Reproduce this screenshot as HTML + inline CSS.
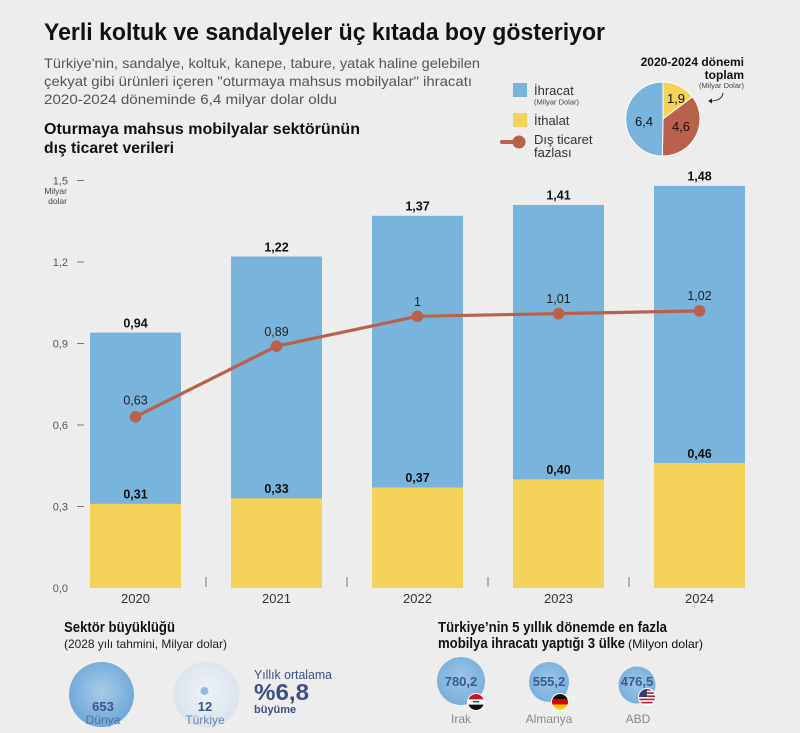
<!DOCTYPE html>
<html><head><meta charset="utf-8"><style>
html,body{margin:0;padding:0;background:#ededed;}
svg{display:block;}
text{font-family:"Liberation Sans",sans-serif;}
</style></head><body>
<svg width="800" height="733" viewBox="0 0 800 733" xmlns="http://www.w3.org/2000/svg">
<defs>
<radialGradient id="gw" cx="50%" cy="45%" r="55%">
<stop offset="0" stop-color="#a8cbe8"/><stop offset="1" stop-color="#6ea7d8"/>
</radialGradient>
<radialGradient id="gt" cx="50%" cy="45%" r="55%">
<stop offset="0" stop-color="#eef2f6"/><stop offset="1" stop-color="#d9e3ee"/>
</radialGradient>
<radialGradient id="gc" cx="50%" cy="45%" r="55%">
<stop offset="0" stop-color="#9cc6e8"/><stop offset="1" stop-color="#78b0dc"/>
</radialGradient>
</defs>
<rect width="800" height="733" fill="#ededed"/>

<!-- Title -->
<text x="44" y="40" font-size="24" font-weight="bold" fill="#111" textLength="561" lengthAdjust="spacingAndGlyphs">Yerli koltuk ve sandalyeler üç kıtada boy gösteriyor</text>
<text x="44" y="68" font-size="14" fill="#555" textLength="436" lengthAdjust="spacingAndGlyphs">Türkiye'nin, sandalye, koltuk, kanepe, tabure, yatak haline gelebilen</text>
<text x="44" y="86" font-size="14" fill="#555" textLength="428" lengthAdjust="spacingAndGlyphs">çekyat gibi ürünleri içeren "oturmaya mahsus mobilyalar" ihracatı</text>
<text x="44" y="104" font-size="14" fill="#555" textLength="293" lengthAdjust="spacingAndGlyphs">2020-2024 döneminde 6,4 milyar dolar oldu</text>
<text x="44" y="134" font-size="16" font-weight="bold" fill="#111" textLength="316" lengthAdjust="spacingAndGlyphs">Oturmaya mahsus mobilyalar sektörünün</text>
<text x="44" y="153" font-size="16" font-weight="bold" fill="#111" textLength="130" lengthAdjust="spacingAndGlyphs">dış ticaret verileri</text>

<!-- Legend -->
<rect x="513" y="83" width="14" height="14" fill="#79b4dc"/>
<text x="534" y="95" font-size="13" fill="#333">İhracat</text>
<text x="534" y="104.5" font-size="7.5" fill="#444">(Milyar Dolar)</text>
<rect x="513" y="113" width="14" height="14" fill="#f5d35a"/>
<text x="534" y="125" font-size="13" fill="#333">İthalat</text>
<line x1="502" y1="142" x2="516" y2="142" stroke="#b9614a" stroke-width="4" stroke-linecap="round"/>
<circle cx="519" cy="142" r="6.5" fill="#b9614a"/>
<text x="534" y="144" font-size="13" fill="#333">Dış ticaret</text>
<text x="534" y="157" font-size="13" fill="#333">fazlası</text>

<!-- Pie -->
<text x="744" y="66" font-size="12" font-weight="bold" fill="#111" text-anchor="end">2020-2024 dönemi</text>
<text x="744" y="79" font-size="12" font-weight="bold" fill="#111" text-anchor="end">toplam</text>
<text x="744" y="88" font-size="7.5" fill="#444" text-anchor="end">(Milyar Dolar)</text>
<path d="M723 93 Q722 101 710 101" fill="none" stroke="#222" stroke-width="1"/>
<path d="M708 101 L712 98.5 L712 103.5 Z" fill="#222"/>
<path d="M663 119 L663 82 A37 37 0 0 1 692.55 96.73 Z" fill="#f5d35a" stroke="#fff" stroke-width="1"/>
<path d="M663 119 L692.55 96.73 A37 37 0 0 1 662.35 156 Z" fill="#b9614a" stroke="#fff" stroke-width="1"/>
<path d="M663 119 L662.35 156 A37 37 0 0 1 663 82 Z" fill="#79b4dc" stroke="#fff" stroke-width="1"/>
<text x="676" y="103" font-size="13" fill="#111" text-anchor="middle">1,9</text>
<text x="681" y="131" font-size="13" fill="#111" text-anchor="middle">4,6</text>
<text x="644" y="126" font-size="13" fill="#111" text-anchor="middle">6,4</text>

<!-- Y axis -->
<g font-size="11" fill="#555" text-anchor="end">
<text x="68" y="184.5">1,5</text>
<text x="68" y="266">1,2</text>
<text x="68" y="347.5">0,9</text>
<text x="68" y="429">0,6</text>
<text x="68" y="510.5">0,3</text>
<text x="68" y="592">0,0</text>
</g>
<text x="67" y="194" font-size="8.5" fill="#444" text-anchor="end">Milyar</text>
<text x="67" y="204" font-size="8.5" fill="#444" text-anchor="end">dolar</text>
<g stroke="#777" stroke-width="1">
<line x1="77" y1="180.5" x2="84" y2="180.5"/>
<line x1="77" y1="262" x2="84" y2="262"/>
<line x1="77" y1="343.5" x2="84" y2="343.5"/>
<line x1="77" y1="425" x2="84" y2="425"/>
<line x1="77" y1="506.5" x2="84" y2="506.5"/>
<line x1="206" y1="577" x2="206" y2="587"/>
<line x1="347" y1="577" x2="347" y2="587"/>
<line x1="488" y1="577" x2="488" y2="587"/>
<line x1="629" y1="577" x2="629" y2="587"/>
</g>

<!-- Bars -->
<g fill="#79b4dc">
<rect x="90" y="332.6" width="91" height="255.4"/>
<rect x="231" y="256.5" width="91" height="331.5"/>
<rect x="372" y="215.8" width="91" height="372.2"/>
<rect x="513" y="204.9" width="91" height="383.1"/>
<rect x="654" y="185.9" width="91" height="402.1"/>
</g>
<g fill="#f5d35a">
<rect x="90" y="503.8" width="91" height="84.2"/>
<rect x="231" y="498.3" width="91" height="89.7"/>
<rect x="372" y="487.5" width="91" height="100.5"/>
<rect x="513" y="479.3" width="91" height="108.7"/>
<rect x="654" y="463" width="91" height="125"/>
</g>

<!-- Bar labels -->
<g font-size="12.5" font-weight="bold" fill="#111" text-anchor="middle">
<text x="135.5" y="327.5">0,94</text>
<text x="276.5" y="251.5">1,22</text>
<text x="417.5" y="210.5">1,37</text>
<text x="558.5" y="199.5">1,41</text>
<text x="699.5" y="180.5">1,48</text>
<text x="135.5" y="498.5">0,31</text>
<text x="276.5" y="493">0,33</text>
<text x="417.5" y="482">0,37</text>
<text x="558.5" y="474">0,40</text>
<text x="699.5" y="458">0,46</text>
</g>

<!-- Line -->
<polyline points="135.5,416.8 276.5,346.2 417.5,316.3 558.5,313.6 699.5,310.9" fill="none" stroke="#b9614a" stroke-width="3.2" stroke-linejoin="round"/>
<g fill="#b9614a">
<circle cx="135.5" cy="416.8" r="5.8"/>
<circle cx="276.5" cy="346.2" r="5.8"/>
<circle cx="417.5" cy="316.3" r="5.8"/>
<circle cx="558.5" cy="313.6" r="5.8"/>
<circle cx="699.5" cy="310.9" r="5.8"/>
</g>
<g font-size="12.5" fill="#222" text-anchor="middle">
<text x="135.5" y="404.5">0,63</text>
<text x="276.5" y="336">0,89</text>
<text x="417.5" y="306">1</text>
<text x="558.5" y="303">1,01</text>
<text x="699.5" y="300">1,02</text>
</g>

<!-- Years -->
<g font-size="13" fill="#333" text-anchor="middle">
<text x="135.5" y="603">2020</text>
<text x="276.5" y="603">2021</text>
<text x="417.5" y="603">2022</text>
<text x="558.5" y="603">2023</text>
<text x="699.5" y="603">2024</text>
</g>

<!-- Bottom left -->
<text x="64" y="632" font-size="14.5" font-weight="bold" fill="#111" textLength="111" lengthAdjust="spacingAndGlyphs">Sektör büyüklüğü</text>
<text x="64" y="648" font-size="12" fill="#222" textLength="163" lengthAdjust="spacingAndGlyphs">(2028 yılı tahmini, Milyar dolar)</text>
<circle cx="101.5" cy="694.5" r="32.5" fill="url(#gw)"/>
<circle cx="206.5" cy="694.5" r="33" fill="url(#gt)"/>
<circle cx="204.5" cy="691" r="4" fill="#8dbde2"/>
<text x="103" y="711" font-size="13" font-weight="bold" fill="#3b5489" text-anchor="middle">653</text>
<text x="103" y="724" font-size="12" fill="#4f72a6" text-anchor="middle">Dünya</text>
<text x="205" y="711" font-size="13" font-weight="bold" fill="#3b5489" text-anchor="middle">12</text>
<text x="205" y="724" font-size="12" fill="#6a86b0" text-anchor="middle">Türkiye</text>
<text x="254" y="679" font-size="12.5" fill="#3d4f86" textLength="78" lengthAdjust="spacingAndGlyphs">Yıllık ortalama</text>
<text x="254" y="700" font-size="23" font-weight="bold" fill="#3d4f86" textLength="55" lengthAdjust="spacingAndGlyphs">%6,8</text>
<text x="254" y="713" font-size="11" font-weight="bold" fill="#3d4f86">büyüme</text>

<!-- Bottom right -->
<text x="438" y="632" font-size="14.5" font-weight="bold" fill="#111" textLength="229" lengthAdjust="spacingAndGlyphs">Türkiye’nin 5 yıllık dönemde en fazla</text>
<text x="438" y="648" font-size="14.5" font-weight="bold" fill="#111" textLength="187" lengthAdjust="spacingAndGlyphs">mobilya ihracatı yaptığı 3 ülke</text>
<text x="628" y="648" font-size="12" fill="#111" textLength="75" lengthAdjust="spacingAndGlyphs">(Milyon dolar)</text>

<circle cx="461" cy="681" r="24" fill="url(#gc)"/>
<circle cx="549" cy="682" r="20" fill="url(#gc)"/>
<circle cx="637" cy="685" r="18.5" fill="url(#gc)"/>
<g font-size="13" font-weight="bold" fill="#3d5a8c" text-anchor="middle">
<text x="461" y="686">780,2</text>
<text x="549" y="686">555,2</text>
<text x="637" y="686">476,5</text>
</g>

<!-- Flags -->
<g>
<circle cx="476" cy="702" r="9" fill="#fff"/>
<clipPath id="f1"><circle cx="476" cy="702" r="8"/></clipPath>
<g clip-path="url(#f1)">
<rect x="468" y="694" width="16" height="5.4" fill="#ce1126"/>
<rect x="468" y="699.3" width="16" height="5.4" fill="#fff"/>
<rect x="468" y="704.6" width="16" height="5.4" fill="#111"/>
<rect x="473" y="701" width="6" height="1.5" fill="#007a3d"/>
</g>
<circle cx="560" cy="702" r="9" fill="#fff"/>
<clipPath id="f2"><circle cx="560" cy="702" r="8"/></clipPath>
<g clip-path="url(#f2)">
<rect x="552" y="694" width="16" height="5.4" fill="#111"/>
<rect x="552" y="699.3" width="16" height="5.4" fill="#dd0000"/>
<rect x="552" y="704.6" width="16" height="5.4" fill="#ffce00"/>
</g>
<circle cx="647" cy="697" r="9" fill="#fff"/>
<clipPath id="f3"><circle cx="647" cy="697" r="8"/></clipPath>
<g clip-path="url(#f3)">
<rect x="639" y="689" width="16" height="16" fill="#fff"/>
<rect x="639" y="689" width="16" height="1.6" fill="#b22234"/>
<rect x="639" y="692.2" width="16" height="1.6" fill="#b22234"/>
<rect x="639" y="695.4" width="16" height="1.6" fill="#b22234"/>
<rect x="639" y="698.6" width="16" height="1.6" fill="#b22234"/>
<rect x="639" y="701.8" width="16" height="1.6" fill="#b22234"/>
<rect x="639" y="705" width="16" height="1.6" fill="#b22234"/>
<rect x="639" y="689" width="8" height="8" fill="#3c3b6e"/>
</g>
</g>

<g font-size="12" fill="#888" text-anchor="middle">
<text x="461" y="723">Irak</text>
<text x="549" y="723">Almanya</text>
<text x="638" y="723">ABD</text>
</g>
</svg>
</body></html>
